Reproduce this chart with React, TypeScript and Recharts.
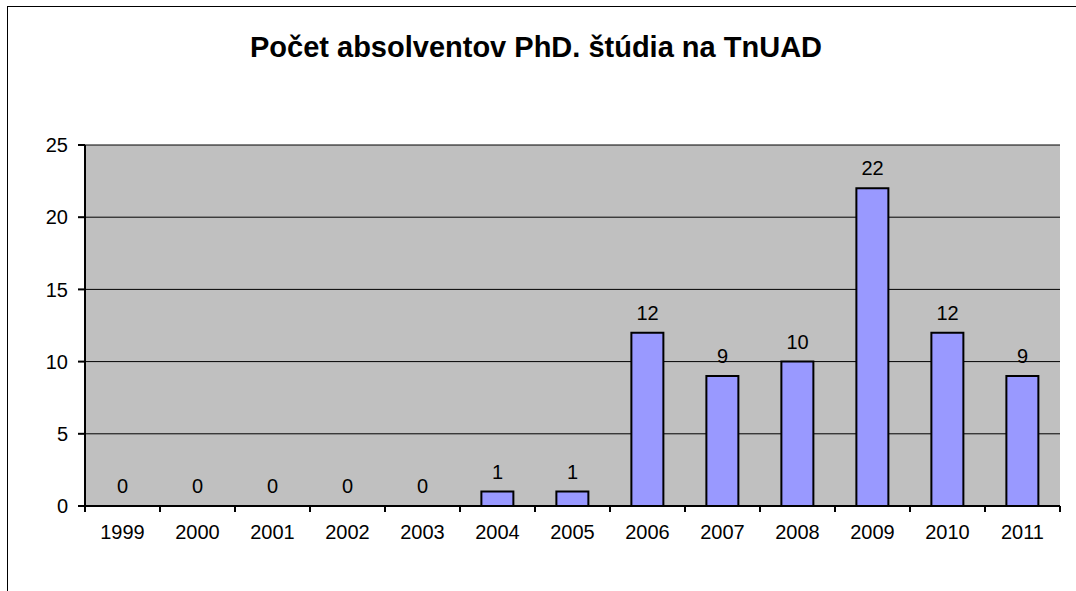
import React from 'react';
import { ComposedChart, Bar, Line, XAxis, YAxis, CartesianGrid, LabelList } from 'recharts';

const years = ['1999', '2000', '2001', '2002', '2003', '2004', '2005', '2006', '2007', '2008', '2009', '2010', '2011'];
const graduates = [0, 0, 0, 0, 0, 1, 1, 12, 9, 10, 22, 12, 9];
const yTicks = [0, 5, 10, 15, 20, 25];

const chartData = years.map((year, i) => ({ year, count: graduates[i] }));

const font = 'Arial, "Liberation Sans", sans-serif';

// year label plus a tick mark on the category boundary (Excel style, ticks between bars)
const YearTick = (props: any) => {
    const { x, y, payload, index, visibleTicksCount } = props;
    const half = payload.offset || 0;
    return (
        <g>
            <line x1={x - half} x2={x - half} y1={y} y2={y + 6} stroke="#000" strokeWidth={2} />
            {index === visibleTicksCount - 1 && (
                <line x1={x + half} x2={x + half} y1={y} y2={y + 6} stroke="#000" strokeWidth={2} />
            )}
            <text x={x} y={y + 19} dy="0.71em" textAnchor="middle" fill="#000" fontSize={20} fontFamily={font}>
                {payload.value}
            </text>
        </g>
    );
};

export default function App() {
    return (
        <div style={{ position: 'absolute', left: 0, top: 0, width: 1076, height: 591, background: '#fff', fontFamily: font }}>
            {/* outer chart border (only left/top visible in the crop) */}
            <div style={{ position: 'absolute', left: 7, top: 6, width: 1100, height: 700, borderLeft: '1px solid #000', borderTop: '1px solid #000' }} />
            <div style={{ position: 'absolute', left: 0, top: 31, width: 1072, textAlign: 'center', fontSize: 29, fontWeight: 'bold', color: '#000' }}>
                Počet absolventov PhD. štúdia na TnUAD
            </div>
            <ComposedChart
                width={1076}
                height={591}
                data={chartData}
                margin={{ top: 145, right: 16, bottom: 54, left: 25 }}
                barCategoryGap="28.5%"
                style={{ position: 'absolute', left: 0, top: 0 }}
            >
                <CartesianGrid vertical={false} stroke="#000" fill="#C0C0C0" fillOpacity={1} />
                <XAxis
                    dataKey="year"
                    interval={0}
                    tickLine={false}
                    tickSize={0}
                    tickMargin={0}
                    stroke="#000"
                    strokeWidth={2}
                    height={31}
                    tick={<YearTick />}
                />
                <XAxis
                    xAxisId="top"
                    orientation="top"
                    dataKey="year"
                    tick={false}
                    tickLine={false}
                    stroke="#808080"
                    strokeWidth={2}
                    height={0}
                />
                <YAxis
                    domain={[0, 25]}
                    ticks={yTicks}
                    width={60}
                    stroke="#000"
                    strokeWidth={2}
                    tickSize={7}
                    tickMargin={10}
                    tick={{ fill: '#000', fontSize: 20, fontFamily: font }}
                />
                <YAxis
                    yAxisId="right"
                    orientation="right"
                    domain={[0, 25]}
                    tick={false}
                    tickLine={false}
                    stroke="#808080"
                    strokeWidth={2}
                    width={0}
                />
                <Bar dataKey="count" fill="#9999FF" stroke="#000" strokeWidth={2} isAnimationActive={false} />
                {/* invisible series carrying the value labels, so zero values get a label too */}
                <Line dataKey="count" stroke="none" dot={false} activeDot={false} isAnimationActive={false}>
                    <LabelList dataKey="count" position="top" offset={13} fill="#000" fontSize={20} fontFamily={font} />
                </Line>
            </ComposedChart>
        </div>
    );
}
